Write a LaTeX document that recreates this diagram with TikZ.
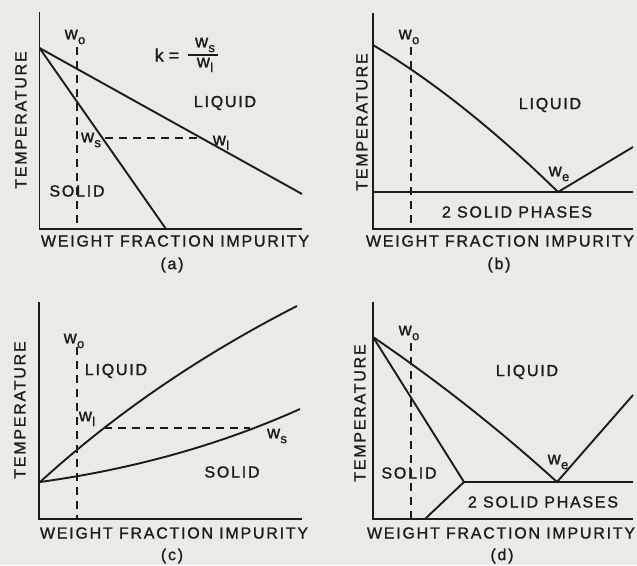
\documentclass[tikz,border=0pt]{standalone}
\usepackage{fontspec}
\setmainfont{Liberation Sans}[LetterSpace=11,FakeBold=1.2]
\definecolor{paper}{RGB}{234,234,230}
\definecolor{ink}{RGB}{28,28,28}
\newcommand\wsb[1]{{\fontsize{18}{18}\selectfont w}\kern0.3pt\raisebox{-0.3em}{\fontsize{13}{13}\selectfont #1}}
\tikzset{
  curve/.style={draw=ink, line width=1.9pt, line join=miter},
  tie/.style={draw=ink, line width=1.3pt, dash pattern=on 8pt off 6pt},
  lbl/.style={text=ink, inner sep=0pt, font=\fontsize{16}{16}\selectfont},
  vlbl/.style={lbl, rotate=90},
}
\begin{document}
\begin{tikzpicture}[x=1pt,y=-1pt]
\fill[paper] (0,0) rectangle (637,565);
\useasboundingbox (0,0) rectangle (637,565);

% ---------------- panel (a)
\coordinate (aT) at (39.5,12);
\coordinate (aO) at (39.5,229);
\coordinate (aE) at (302,229);
\coordinate (aM) at (39.5,48);
\coordinate (aL) at (302,194);
\coordinate (aS) at (166,229);
\coordinate (aW0t) at (77,47);
\coordinate (aW0b) at (77,229);
\coordinate (aTs) at (105,138);
\coordinate (aTl) at (201,138);
\draw[tie] (aW0t) -- (aW0b);
\draw[tie] (aTs) -- (aTl);
\draw[curve] (aT) -- (aO) -- (aE);
\draw[curve] (aM) -- (aL);
\draw[curve] (aM) -- (aS);
\node[vlbl] (aY) at (21,120) {TEMPERATURE};
\node[lbl] (aX) at (175,241) {WEIGHT FRACTION IMPURITY};
\node[lbl] (aCap) at (172,265) {(a)};
\node[lbl] (aW0) at (75,37) {\wsb{o}};
\node[lbl,font=\fontsize{18}{18}\selectfont] (aK) at (167,55) {k\hspace{5pt}=};
\node[lbl] (aKn) at (205,45) {\wsb{s}};
\node[lbl] (aKd) at (205,65) {\wsb{l}};
\coordinate (aBar1) at (188,55);
\coordinate (aBar2) at (218,55);
\draw[draw=ink, line width=1.5pt] (aBar1) -- (aBar2);
\node[lbl] (aLiq) at (225,103) {LIQUID};
\node[lbl] (aWs) at (91,140) {\wsb{s}};
\node[lbl] (aWl) at (221,143) {\wsb{l}};
\node[lbl] (aSol) at (77,191) {SOLID};

% ---------------- panel (b)
\coordinate (bT) at (373,13);
\coordinate (bO) at (373,229);
\coordinate (bE) at (633,229);
\coordinate (bM) at (373,45);
\coordinate (bEu) at (558,192);
\coordinate (bR) at (633,147);
\coordinate (bEL) at (373,192);
\coordinate (bER) at (633,192);
\coordinate (bW0t) at (411,47);
\coordinate (bW0b) at (411,229);
\draw[tie] (bW0t) -- (bW0b);
\draw[curve] (bT) -- (bO) -- (bE);
\draw[curve] (bEL) -- (bER);
\draw[curve] (bM) .. controls (433,81) and (494.7,130) .. (bEu) -- (bR);
\node[vlbl] (bY) at (362,122) {TEMPERATURE};
\node[lbl] (bX) at (500,241) {WEIGHT FRACTION IMPURITY};
\node[lbl] (bCap) at (499,265) {(b)};
\node[lbl] (bW0) at (409,37) {\wsb{o}};
\node[lbl] (bLiq) at (550,105) {LIQUID};
\node[lbl] (bWe) at (559,174) {\wsb{e}};
\node[lbl] (bSP) at (517,212) {2 SOLID PHASES};

% ---------------- panel (c)
\coordinate (cT) at (39,302);
\coordinate (cO) at (39,519);
\coordinate (cE) at (302,519);
\coordinate (cM) at (40,482);
\coordinate (cU) at (297,306);
\coordinate (cLo) at (300,409);
\coordinate (cW0t) at (77,347);
\coordinate (cW0b) at (77,519);
\coordinate (cTl) at (104,428);
\coordinate (cTs) at (250,428);
\draw[tie] (cW0t) -- (cW0b);
\draw[tie] (cTl) -- (cTs);
\draw[curve] (cT) -- (cO) -- (cE);
\draw[curve] (cM) .. controls (114.7,414) and (200.3,355.3) .. (cU);
\draw[curve] (cM) .. controls (134.4,468.9) and (221.1,444.5) .. (cLo);
\node[vlbl] (cY) at (20,410) {TEMPERATURE};
\node[lbl] (cX) at (174,533) {WEIGHT FRACTION IMPURITY};
\node[lbl] (cCap) at (172,556) {(c)};
\node[lbl] (cW0) at (74,341) {\wsb{o}};
\node[lbl] (cLiq) at (116,371) {LIQUID};
\node[lbl] (cWl) at (87,419) {\wsb{l}};
\node[lbl] (cWs) at (277,436) {\wsb{s}};
\node[lbl] (cSol) at (232,472) {SOLID};

% ---------------- panel (d)
\coordinate (dT) at (373,302);
\coordinate (dO) at (373,519);
\coordinate (dE) at (633,519);
\coordinate (dM) at (373,337);
\coordinate (dEu) at (557,482);
\coordinate (dR) at (633,395);
\coordinate (dSs) at (464,482);
\coordinate (dER) at (633,482);
\coordinate (dSv) at (425,519);
\coordinate (dW0t) at (411,343);
\coordinate (dW0b) at (411,519);
\draw[tie] (dW0t) -- (dW0b);
\draw[curve] (dT) -- (dO) -- (dE);
\draw[curve] (dM) .. controls (437.7,381) and (499,429.3) .. (dEu) -- (dR);
\draw[curve] (dM) -- (dSs) -- (dER);
\draw[curve] (dSv) -- (dSs);
\node[vlbl] (dY) at (360,413) {TEMPERATURE};
\node[lbl] (dX) at (501,533) {WEIGHT FRACTION IMPURITY};
\node[lbl] (dCap) at (502,556) {(d)};
\node[lbl] (dW0) at (409,333) {\wsb{o}};
\node[lbl] (dLiq) at (527,372) {LIQUID};
\node[lbl] (dWe) at (558,462) {\wsb{e}};
\node[lbl] (dSol) at (409,473) {SOLID};
\node[lbl] (dSP) at (543,502) {2 SOLID PHASES};
\end{tikzpicture}
\end{document}
